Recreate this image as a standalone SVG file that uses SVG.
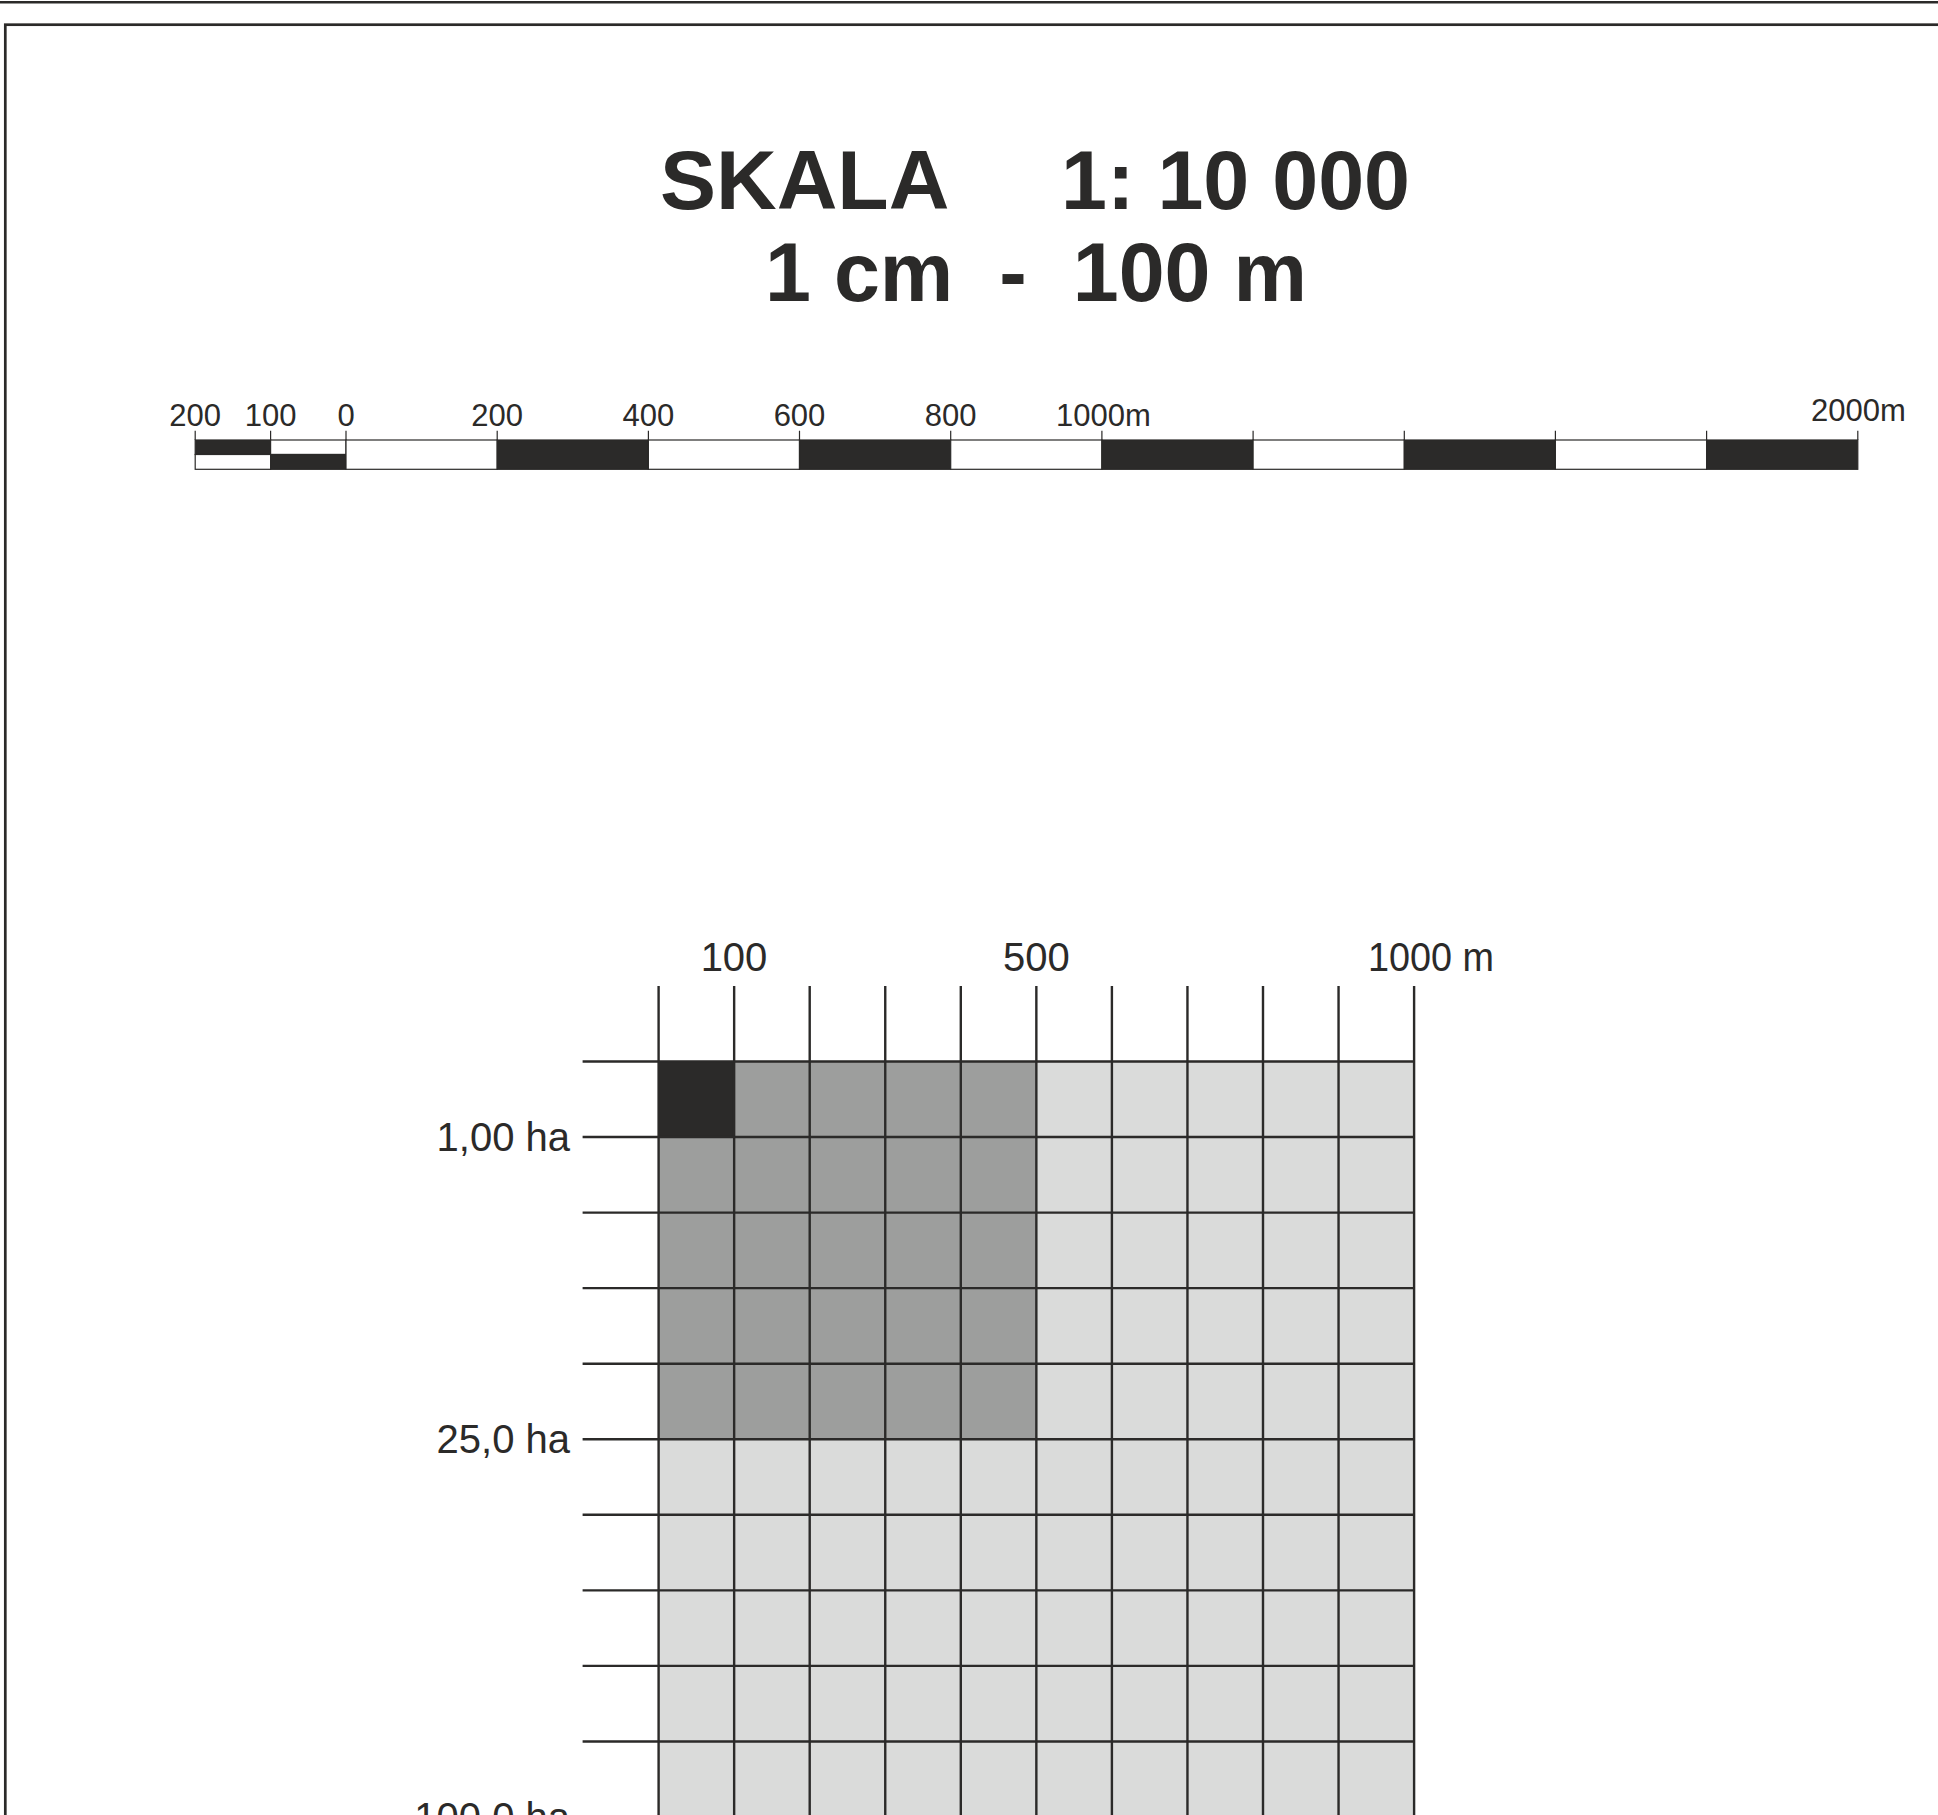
<svg xmlns="http://www.w3.org/2000/svg" width="1938" height="1815" viewBox="0 0 1938 1815">
<style>
.t{font-family:"Liberation Sans",Arial,sans-serif;fill:#2b2a29}
.title{font-size:84px;font-weight:bold}
.sl{font-size:31px;text-anchor:middle}
.gl{font-size:40px}
.bar{stroke:#2b2a29;stroke-width:1.2}
.blk{fill:#2b2a29}
.wht{fill:#ffffff}
.gl2{stroke:#2b2a29;stroke-width:2.4;fill:none}
</style>
<rect x="0" y="0" width="1938" height="1815" fill="#ffffff"/>
<g id="frame">
<line x1="0" y1="2.2" x2="1938" y2="2.2" stroke="#2b2a29" stroke-width="2.6"/>
<rect x="5.3" y="24.7" width="1960" height="1820" fill="none" stroke="#2b2a29" stroke-width="2.7"/>
</g>
<g id="title">
<text class="t title" x="660" y="209">SKALA</text>
<text class="t title" x="1061" y="209" textLength="349" lengthAdjust="spacingAndGlyphs">1: 10 000</text>
<text class="t title" x="765" y="301" xml:space="preserve" textLength="542" lengthAdjust="spacingAndGlyphs">1 cm  -  100 m</text>
</g>
<g id="scalebar">
<g class="bar">
<rect class="blk" x="195.2" y="440" width="75.4" height="14.5"/>
<rect class="wht" x="195.2" y="454.5" width="75.4" height="14.8"/>
<rect class="wht" x="270.6" y="440" width="75.4" height="14.5"/>
<rect class="blk" x="270.6" y="454.5" width="75.4" height="14.8"/>
<rect class="wht" x="346" y="440" width="151.2" height="29.3"/>
<rect class="blk" x="497.2" y="440" width="151.2" height="29.3"/>
<rect class="wht" x="648.4" y="440" width="151.1" height="29.3"/>
<rect class="blk" x="799.5" y="440" width="151.2" height="29.3"/>
<rect class="wht" x="950.7" y="440" width="151.2" height="29.3"/>
<rect class="blk" x="1101.9" y="440" width="151.2" height="29.3"/>
<rect class="wht" x="1253.1" y="440" width="151.2" height="29.3"/>
<rect class="blk" x="1404.3" y="440" width="151.1" height="29.3"/>
<rect class="wht" x="1555.4" y="440" width="151.2" height="29.3"/>
<rect class="blk" x="1706.6" y="440" width="151.2" height="29.3"/>
<path fill="none" d="M195.2,430.7V440M270.6,430.7V440M346,430.7V440M497.2,430.7V440M648.4,430.7V440M799.5,430.7V440M950.7,430.7V440M1101.9,430.7V440M1253.1,430.7V440M1404.3,430.7V440M1555.4,430.7V440M1706.6,430.7V440M1857.8,430.7V440"/>
</g>
<text class="t sl" x="195.2" y="425.7">200</text>
<text class="t sl" x="270.6" y="425.7">100</text>
<text class="t sl" x="346" y="425.7">0</text>
<text class="t sl" x="497.2" y="425.7">200</text>
<text class="t sl" x="648.4" y="425.7">400</text>
<text class="t sl" x="799.5" y="425.7">600</text>
<text class="t sl" x="950.7" y="425.7">800</text>
<text class="t sl" x="1103.5" y="425.7">1000m</text>
<text class="t sl" x="1858.5" y="420.5">2000m</text>
</g>
<g id="grid">
<rect x="658.6" y="1061.5" width="755.5" height="800" fill="#dadbda"/>
<rect x="658.6" y="1061.5" width="377.75" height="377.75" fill="#9d9e9d"/>
<rect x="658.6" y="1061.5" width="75.55" height="75.55" fill="#2b2a29"/>
<path class="gl2" d="M658.6,986V1860M734.15,986V1860M809.7,986V1860M885.25,986V1860M960.8,986V1860M1036.35,986V1860M1111.9,986V1860M1187.45,986V1860M1263,986V1860M1338.55,986V1860M1414.1,986V1860"/>
<path class="gl2" d="M582.6,1061.5H1414.1M582.6,1137.05H1414.1M582.6,1212.6H1414.1M582.6,1288.15H1414.1M582.6,1363.7H1414.1M582.6,1439.25H1414.1M582.6,1514.8H1414.1M582.6,1590.35H1414.1M582.6,1665.9H1414.1M582.6,1741.45H1414.1M582.6,1817H1414.1"/>
<text class="t gl" x="734" y="971" text-anchor="middle">100</text>
<text class="t gl" x="1036.4" y="971" text-anchor="middle">500</text>
<text class="t gl" x="1368" y="971" textLength="126" lengthAdjust="spacingAndGlyphs">1000 m</text>
<text class="t gl" x="570" y="1150.7" text-anchor="end">1,00 ha</text>
<text class="t gl" x="570" y="1452.5" text-anchor="end">25,0 ha</text>
<text class="t gl" x="570" y="1830.5" text-anchor="end">100,0 ha</text>
</g>
</svg>
